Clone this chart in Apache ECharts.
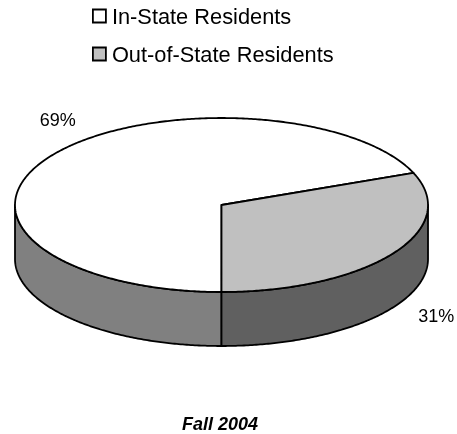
<!DOCTYPE html>
<html>
<head>
<meta charset="utf-8">
<style>html,body{margin:0;padding:0;background:#fff}#c{width:457px;height:434px}</style>
<script src="https://cdn.jsdelivr.net/npm/echarts@6/dist/echarts.min.js"></script>
</head>
<body>
<div id="c"></div>
<script>
const categories = ['In-State Residents', 'Out-of-State Residents'];
const values = [69, 31];
const topColors = ['#FFFFFF', '#C0C0C0'];
const sideColors = ['#808080', '#606060'];
const chartTitle = 'Fall 2004';
const labelOffsets = [[7, -35], [44, 9]];

const FONT = '"Liberation Sans", Arial, sans-serif';
const CX = 221.5, CY = 205, RX = 206.5, RY = 87, DEPTH = 54;
const START = Math.PI / 2; // screen angle (y down): slices begin at the front of the pie
const total = values.reduce((a, b) => a + b, 0);

function pt(a, dy) { return [CX + RX * Math.cos(a), CY + RY * Math.sin(a) + (dy || 0)]; }
function arc(a0, a1, dy) {
  const n = Math.max(2, Math.ceil(Math.abs(a1 - a0) / 0.01));
  const out = [];
  for (let i = 0; i <= n; i++) out.push(pt(a0 + (a1 - a0) * i / n, dy));
  return out;
}

function sliceAngles(idx) {
  let before = 0;
  for (let i = 0; i < idx; i++) before += values[i];
  return [
    START + before / total * Math.PI * 2,
    START + (before + values[idx]) / total * Math.PI * 2
  ];
}

function renderSlice(idx) {
  return function (params, api) {
    const [a0, a1] = sliceAngles(idx);
    const stroke = { stroke: '#000', lineWidth: 1.8, lineJoin: 'round' };
    const children = [];
    // visible wall: the part of the slice on the near half of the ellipse (screen angle 0..PI, mod 2PI)
    const ranges = [[0, Math.PI], [2 * Math.PI, 3 * Math.PI]];
    ranges.forEach(function (r) {
      const s = Math.max(a0, r[0]), e = Math.min(a1, r[1]);
      if (e > s) {
        const pts = arc(s, e, 0).concat(arc(e, s, DEPTH));
        children.push({
          type: 'polygon',
          shape: { points: pts },
          style: Object.assign({ fill: sideColors[idx] }, stroke)
        });
      }
    });
    // top face
    children.push({
      type: 'polygon',
      shape: { points: [[CX, CY]].concat(arc(a0, a1, 0)) },
      style: Object.assign({ fill: topColors[idx] }, stroke)
    });
    // percent label
    const mid = (a0 + a1) / 2;
    const anchor = pt(mid, Math.sin(mid) > 0 ? DEPTH : 0);
    children.push({
      type: 'text',
      style: {
        x: anchor[0] + labelOffsets[idx][0],
        y: anchor[1] + labelOffsets[idx][1],
        text: Math.round(api.value(0) / total * 100) + '%',
        fill: '#000',
        font: '18px ' + FONT,
        align: 'center',
        verticalAlign: 'middle'
      }
    });
    return { type: 'group', children: children };
  };
}

const chart = echarts.init(document.getElementById('c'), null, { renderer: 'canvas' });
chart.setOption({
  animation: false,
  backgroundColor: '#fff',
  title: {
    text: chartTitle,
    left: 215,
    top: 411,
    textAlign: 'center',
    textStyle: { fontFamily: FONT, fontSize: 18, fontWeight: 'bold', fontStyle: 'italic', color: '#000' }
  },
  legend: {
    orient: 'vertical',
    left: 92,
    top: 7,
    padding: 0,
    itemWidth: 13,
    itemHeight: 13,
    itemGap: 16,
    selectedMode: false,
    icon: 'rect',
    formatter: '{t|{name}}',
    textStyle: {
      fontFamily: FONT, fontSize: 21.8, color: '#000', padding: [0, 0, 0, 1],
      rich: { t: { fontFamily: FONT, fontSize: 21.8, color: '#000', padding: [4, 0, 0, 0] } }
    },
    data: categories.map((name, i) => ({
      name: name,
      itemStyle: { color: topColors[i], borderColor: '#000', borderWidth: 1.8 }
    }))
  },
  series: categories.map((name, i) => ({
    type: 'custom',
    name: name,
    coordinateSystem: 'none',
    silent: true,
    itemStyle: { color: topColors[i] },
    renderItem: renderSlice(i),
    data: [[values[i]]]
  }))
});
</script>
</body>
</html>
